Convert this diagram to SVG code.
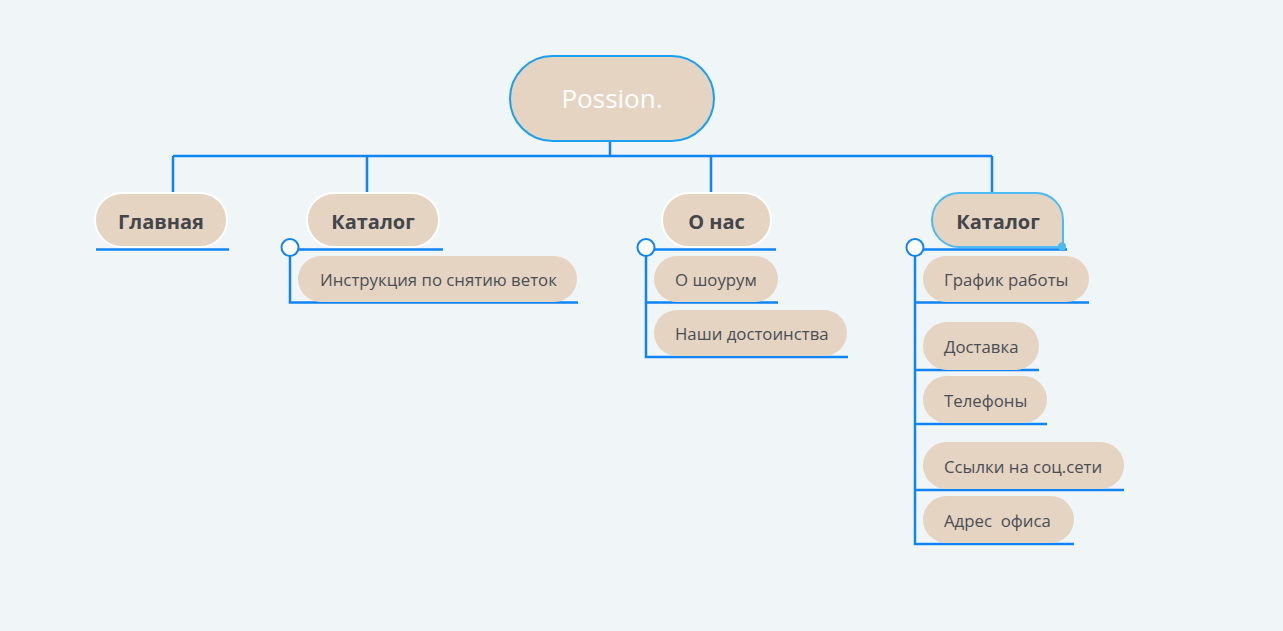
<svg xmlns="http://www.w3.org/2000/svg" width="1283" height="631" viewBox="0 0 1283 631">
<style>
.bg{fill:#f0f5f8}
.node{fill:#e5d4c2}
.l1{stroke:#ffffff;stroke-width:2}
.sel{stroke:#4dbaf2;stroke-width:2}
.root{stroke:#1aa0f0;stroke-width:2}
.ln{stroke:#0f84f2;stroke-width:2.5;fill:none}
.knob{fill:#ffffff;stroke:#0f84f2;stroke-width:2}
.t1{font-family:"Open Sans","Noto Sans","DejaVu Sans",sans-serif;font-size:20px;font-weight:700;fill:#43464c;text-anchor:middle}
.t2{font-family:"Open Sans","Noto Sans","DejaVu Sans",sans-serif;font-size:16.8px;fill:#4a4e55}
.tr{font-family:"Open Sans","Noto Sans","DejaVu Sans",sans-serif;font-size:26px;fill:#ffffff;text-anchor:middle}
</style>
<rect class="bg" x="0" y="0" width="1283" height="631"/>
<g id="connectors">
<path class="ln" d="M610 141V156M173 156H992M173 156V193M367 156V193M711 156V193M992 156V193"/>
<path class="ln" d="M96 249.5H229"/>
<path class="ln" d="M290 249.5H443M290 255V302.5H578"/>
<path class="ln" d="M646 249.5H776M646 255V357H848M646 302.5H778"/>
<path class="ln" d="M915 249.5H1067M915 255V544H1074M915 302.5H1089M915 370H1039M915 424H1047M915 490H1124"/>
</g>
<g id="root">
<rect class="node root" x="510" y="56" width="204" height="85" rx="42.5"/>
<text class="tr" x="612" y="108">Possion.</text>
</g>
<g id="glavnaya">
<rect class="node l1" x="95" y="193" width="132" height="54" rx="27"/>
<text class="t1" x="161" y="229">Главная</text>
</g>
<g id="katalog1">
<rect class="node l1" x="307" y="193" width="132" height="54" rx="27"/>
<text class="t1" x="373" y="229">Каталог</text>
<circle class="knob" cx="290" cy="247.5" r="8.5"/>
</g>
<g id="instr">
<rect class="node" x="298" y="256" width="279" height="46" rx="23"/>
<text class="t2" x="320" y="286">Инструкция по снятию веток</text>
</g>
<g id="onas">
<rect class="node l1" x="662" y="193" width="109" height="54" rx="27"/>
<text class="t1" x="716.5" y="229">О нас</text>
<circle class="knob" cx="646" cy="247.5" r="8.5"/>
</g>
<g id="showroom">
<rect class="node" x="654" y="256" width="124" height="46" rx="23"/>
<text class="t2" x="675" y="286">О шоурум</text>
</g>
<g id="dostoinstva">
<rect class="node" x="654" y="310" width="193" height="46" rx="23"/>
<text class="t2" x="675" y="340">Наши достоинства</text>
</g>
<g id="katalog2">
<path class="node sel" d="M959 193H1036A27 27 0 0 1 1063 220V247H959A27 27 0 0 1 932 220A27 27 0 0 1 959 193Z"/>
<text class="t1" x="998" y="229">Каталог</text>
<circle cx="1062" cy="246.5" r="4" fill="#4dbaf2"/>
<circle class="knob" cx="915" cy="247.5" r="8.5"/>
</g>
<g id="grafik">
<rect class="node" x="923" y="256" width="166" height="46" rx="23"/>
<text class="t2" x="944" y="286">График работы</text>
</g>
<g id="dostavka">
<rect class="node" x="923" y="322" width="116" height="48" rx="24"/>
<text class="t2" x="944" y="353">Доставка</text>
</g>
<g id="telefony">
<rect class="node" x="923" y="376" width="124" height="47" rx="23.5"/>
<text class="t2" x="944" y="407">Телефоны</text>
</g>
<g id="ssylki">
<rect class="node" x="923" y="442" width="201" height="47" rx="23.5"/>
<text class="t2" x="944" y="473">Ссылки на соц.сети</text>
</g>
<g id="adres">
<rect class="node" x="923" y="496" width="151" height="47" rx="23.5"/>
<text class="t2" x="944" y="527" xml:space="preserve">Адрес  офиса</text>
</g>
</svg>
